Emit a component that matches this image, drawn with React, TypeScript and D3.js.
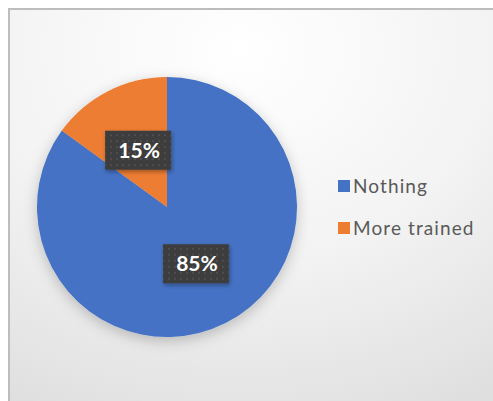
import React from "react";
import * as d3 from "d3";

const categories = ["Nothing", "More trained"];
const values = [85, 15];
const colors = ["#4472C4", "#ED7D31"];

const W = 493;
const H = 401;
const cx = 167;
const cy = 207;
const R = 130;

export default function App() {
  const pie = d3.pie<number>().sort(null).value((d) => d)(values);
  const arc = d3.arc<d3.PieArcDatum<number>>().innerRadius(0).outerRadius(R);
  const total = d3.sum(values);
  const labelArc = d3.arc<d3.PieArcDatum<number>>().innerRadius(R * 0.49).outerRadius(R * 0.49);

  return (
    <div style={{ position: "absolute", left: 0, top: 0 }}>
      <svg width={W} height={H} style={{ display: "block" }}>
        <defs>
          <radialGradient id="bg" cx="45%" cy="10%" r="110%" fx="45%" fy="10%">
            <stop offset="0%" stopColor="#ffffff" />
            <stop offset="45%" stopColor="#f3f3f3" />
            <stop offset="100%" stopColor="#d8d8d8" />
          </radialGradient>
          <filter id="shadow" x="-30%" y="-30%" width="160%" height="160%">
            <feDropShadow dx="0" dy="4" stdDeviation="7" floodColor="#000" floodOpacity="0.22" />
          </filter>
          <filter id="boxShadow" x="-30%" y="-30%" width="160%" height="160%">
            <feDropShadow dx="1" dy="2" stdDeviation="2" floodColor="#000" floodOpacity="0.35" />
          </filter>
          <pattern id="dots" width="6" height="6" patternUnits="userSpaceOnUse">
            <rect width="6" height="6" fill="#3d3d3d" />
            <circle cx="3" cy="3" r="1" fill="#555" />
          </pattern>
        </defs>
        <rect x={0} y={0} width={W} height={H} fill="#ffffff" />
        <rect x={9} y={9} width={W + 20} height={H + 20} fill="url(#bg)" stroke="#bdbdbd" strokeWidth={2} />
        <g transform={`translate(${cx},${cy})`}>
          <g filter="url(#shadow)">
            {pie.map((p, i) => (
              <path key={i} d={arc(p) || ""} fill={colors[i]} />
            ))}
          </g>
          {pie.map((p, i) => {
            const [lx, ly] = labelArc.centroid(p);
            const txt = `${Math.round((values[i] / total) * 100)}%`;
            const bw = 66;
            const bh = 39;
            return (
              <g key={"l" + i} transform={`translate(${lx},${ly})`}>
                <rect x={-bw / 2} y={-bh / 2} width={bw} height={bh} fill="url(#dots)" filter="url(#boxShadow)" />
                <text
                  x={1}
                  y={0}
                  dy="0.35em"
                  textAnchor="middle"
                  fill="#ffffff"
                  fontFamily="Lato, 'Open Sans', sans-serif"
                  fontWeight="bold"
                  fontSize={21}
                >
                  {txt}
                </text>
              </g>
            );
          })}
        </g>
        <g transform="translate(338,180)">
          {categories.map((c, i) => (
            <g key={c} transform={`translate(0,${i * 42})`}>
              <rect x={0} y={0} width={12} height={12} fill={colors[i]} />
              <text
                x={15}
                y={6}
                dy="0.36em"
                fill="#595959"
                fontFamily="Lato, 'Open Sans', sans-serif"
                fontSize={19}
                letterSpacing={1.1}
              >
                {c}
              </text>
            </g>
          ))}
        </g>
      </svg>
    </div>
  );
}
